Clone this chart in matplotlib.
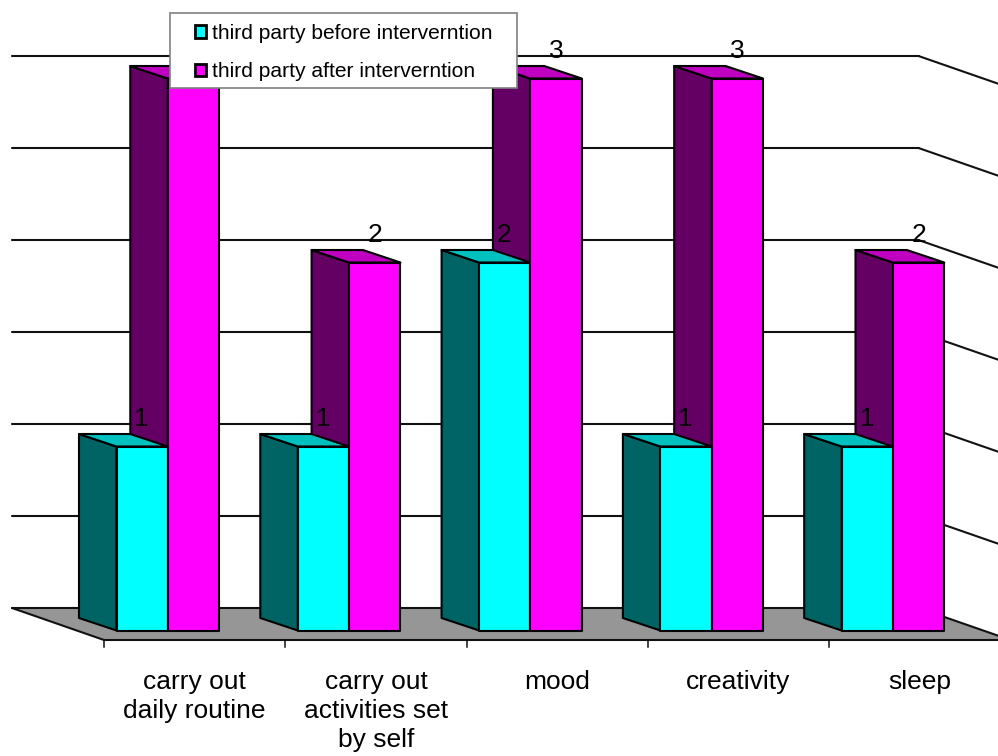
import matplotlib
matplotlib.use("Agg")
import matplotlib.pyplot as plt
from matplotlib.patches import Patch, Polygon, Rectangle

plt.rcParams['font.family'] = ['Liberation Sans', 'DejaVu Sans']

# Datos
categories = ['carry out\ndaily routine', 'carry out\nactivities set\nby self', 'mood', 'creativity', 'sleep']
before = [1, 1, 2, 1, 1]
after = [3, 2, 3, 3, 2]
series_names = ['third party before interverntion', 'third party after interverntion']
grid_values = [0, 0.5, 1, 1.5, 2, 2.5, 3]

# Colores: frente, lado, tapa
cyan = ('#00FFFF', '#006464', '#00C0C0')
magenta = ('#FF00FF', '#640064', '#C000C0')

W, H = 998, 756
# Escala: 1 categoria = 181.3 px, 1 unidad de valor = 184 px
cat_px, val_px = 181.3, 184.0
x0_px, y0_px = 104.0, 630.5

fig = plt.figure(figsize=(W / 100, H / 100), dpi=100)
ax = fig.add_axes([0, 0, 1, 1])
ax.set_xlim(-x0_px / cat_px, (W - x0_px) / cat_px)
ax.set_ylim((y0_px - H) / val_px, y0_px / val_px)
ax.axis('off')

# Profundidad de las barras y del piso (en unidades de datos)
bar_dx, bar_dy = -37.5 / cat_px, 12.5 / val_px
wall_dx, wall_dy = -92 / cat_px, 22.5 / val_px
front_dy = -9.5 / val_px
bar_w = 51.3 / cat_px
bar_start = 12.5 / cat_px
n = len(categories)
lw = 1.5
line_kw = dict(color='#111111', lw=lw, solid_capstyle='round', zorder=1)

# Piso
ax.add_patch(Polygon([(wall_dx, wall_dy), (wall_dx + n, wall_dy), (n, front_dy), (0, front_dy)],
                     closed=True, fc='#969696', ec='none', zorder=0.5))

# Lineas de la grilla: pared del fondo y pared derecha
for v in grid_values:
    yb = v + wall_dy
    ax.plot([wall_dx, wall_dx + n], [yb, yb], **line_kw)
    ax.plot([wall_dx + n, n], [yb, v + front_dy], **line_kw)
ax.plot([wall_dx, 0, n], [wall_dy, front_dy, front_dy], **line_kw)

# Marcas del eje y etiquetas
for i in range(n + 1):
    ax.plot([i, i], [front_dy, front_dy - 7 / val_px], color='#111111', lw=1.1, zorder=1)
for i, cat in enumerate(categories):
    ax.text(i + 0.5, front_dy - 30 / val_px, cat, ha='center', va='top', fontsize=19,
            linespacing=1.27, color='black', zorder=3)


def side_top(x, h, colors, z):
    ax.add_patch(Polygon([(x, 0), (x, h), (x + bar_dx, h + bar_dy), (x + bar_dx, bar_dy)],
                         closed=True, fc=colors[1], ec='black', lw=lw, joinstyle='round', zorder=z))
    ax.add_patch(Polygon([(x, h), (x + bar_w, h), (x + bar_w + bar_dx, h + bar_dy), (x + bar_dx, h + bar_dy)],
                         closed=True, fc=colors[2], ec='black', lw=lw, joinstyle='round', zorder=z))


def front(x, h, colors, z):
    ax.add_patch(Polygon([(x, 0), (x + bar_w, 0), (x + bar_w, h), (x, h)],
                         closed=True, fc=colors[0], ec='black', lw=lw, joinstyle='round', zorder=z))


# Barras
for i in range(n):
    x_b = i + bar_start
    x_a = x_b + bar_w
    z = 2 + i * 0.1
    side_top(x_a, after[i], magenta, z)
    side_top(x_b, before[i], cyan, z + 0.01)
    front(x_b, before[i], cyan, z + 0.02)
    front(x_a, after[i], magenta, z + 0.03)

# Etiquetas de valores
for i in range(n):
    x_b = i + bar_start
    x_a = x_b + bar_w
    ax.text(x_b + bar_w / 2 - 0.5 / cat_px, before[i] + 27 / val_px, str(before[i]), ha='center', va='center',
            fontsize=19, zorder=4)
    ax.text(x_a + bar_w / 2, after[i] + 27 / val_px, str(after[i]), ha='center', va='center',
            fontsize=19, zorder=4)

# Leyenda: marco aparte para fijar los margenes
fig.add_artist(Rectangle((170 / W, 1 - 88 / H), 347 / W, 75 / H, transform=fig.transFigure,
                         fc='white', ec='#808080', lw=1.2, zorder=9))
handles = [Patch(fc=cyan[0], ec='black', lw=2, label=series_names[0]),
           Patch(fc=magenta[0], ec='black', lw=2, label=series_names[1])]
leg = fig.legend(handles=handles, loc='upper left', bbox_to_anchor=(195 / W, 1 - 24 / H),
                 bbox_transform=fig.transFigure, fontsize=15.1, frameon=False,
                 borderpad=0, labelspacing=0.92, handlelength=0.52,
                 handleheight=0.52, handletextpad=0.28, borderaxespad=0)
leg.set_zorder(10)

fig.savefig('out.png', dpi=100, facecolor='white')
